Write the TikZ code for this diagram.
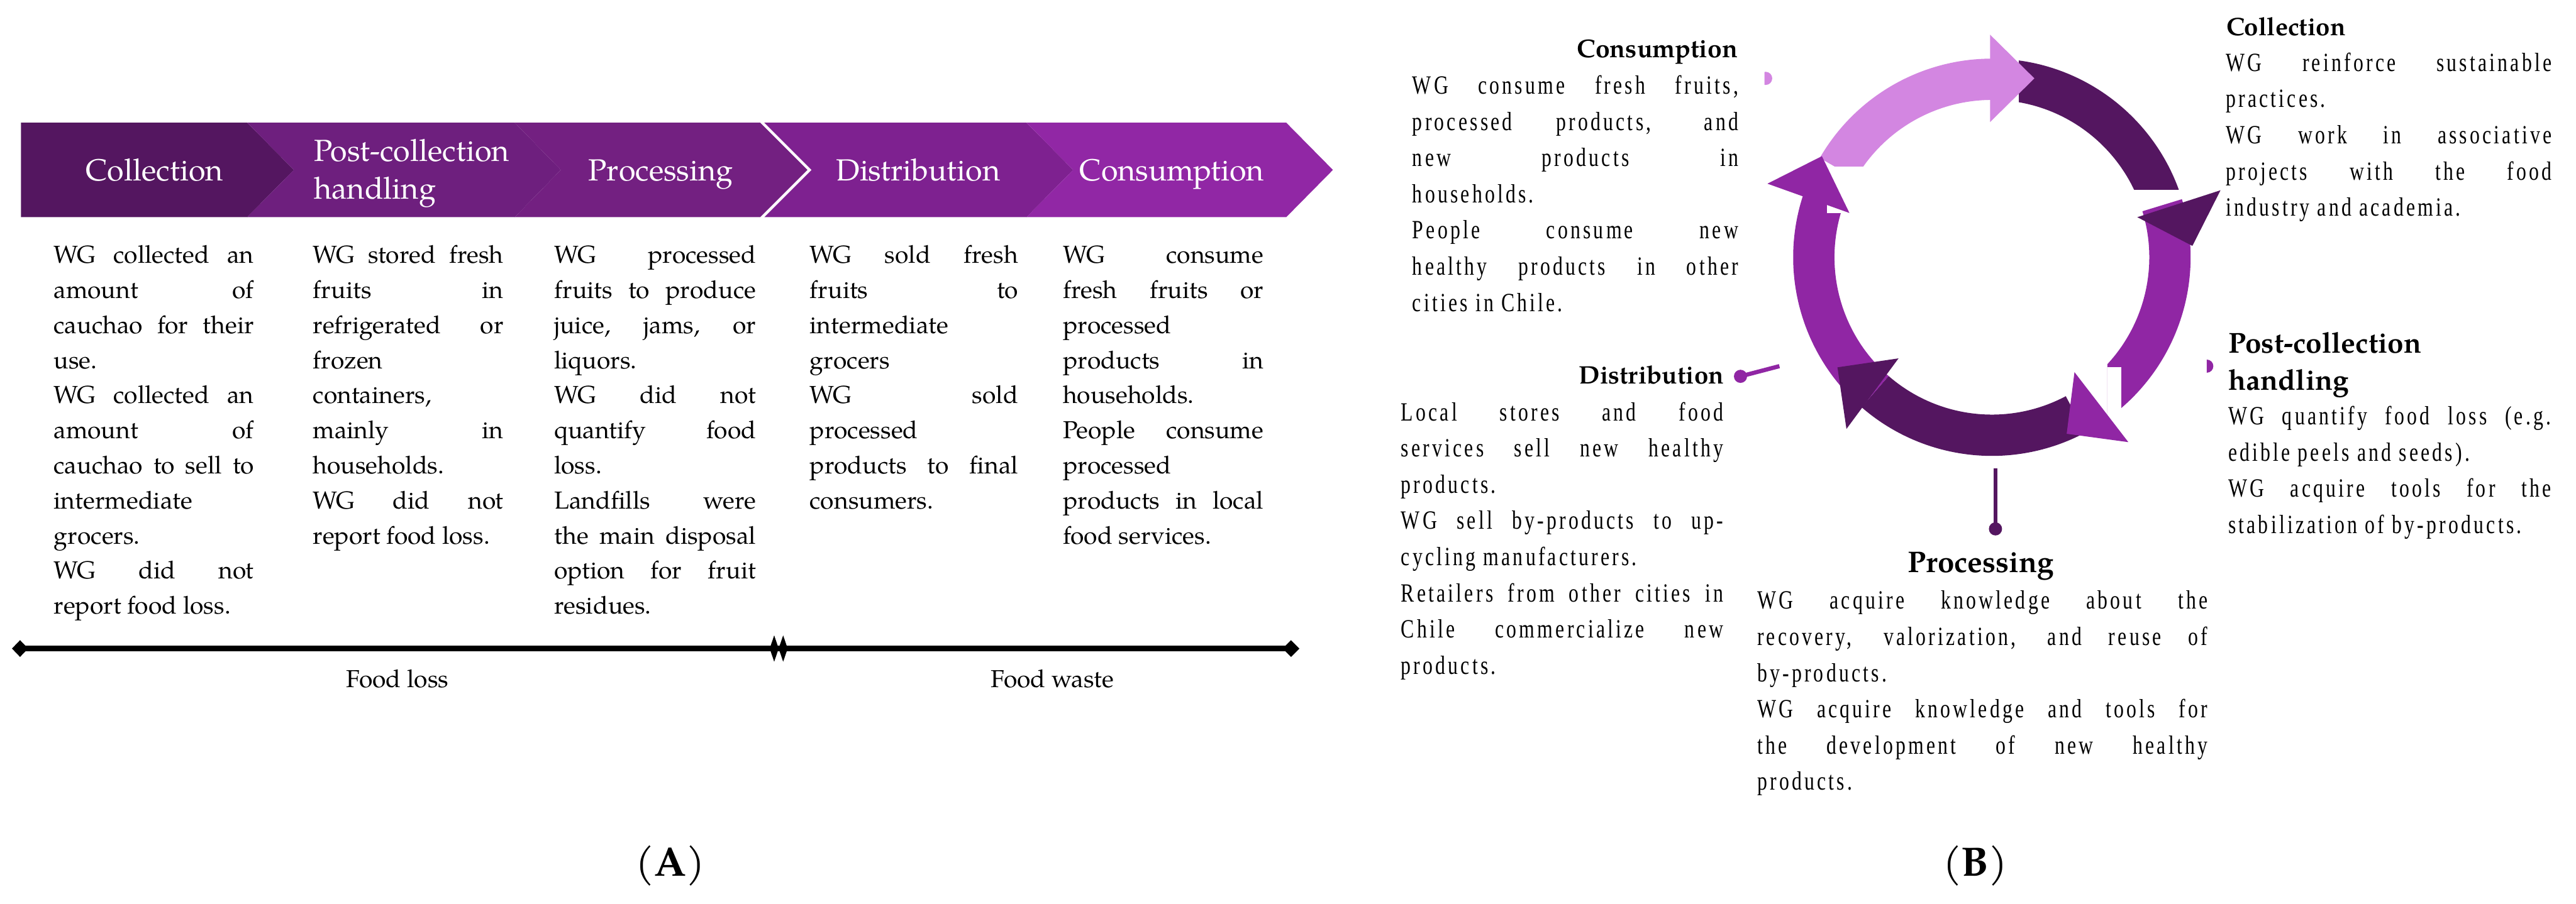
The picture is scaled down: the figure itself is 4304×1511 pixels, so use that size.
\documentclass[tikz,border=0pt]{standalone}
\usepackage{fontspec}
\setmainfont{TeX Gyre Pagella}
\newfontfamily\bfontB[FakeStretch=0.76,LetterSpace=10]{Liberation Serif}
\definecolor{cAa}{RGB}{84,22,96}
\definecolor{cAb}{RGB}{110,31,126}
\definecolor{cAc}{RGB}{115,32,129}
\definecolor{cAd}{RGB}{126,33,144}
\definecolor{cAe}{RGB}{145,39,165}
\definecolor{lightp}{RGB}{211,134,225}
\definecolor{darkp}{RGB}{84,22,96}
\definecolor{midp}{RGB}{144,38,164}
\newcommand\justl[1]{\makebox[\linewidth][s]{#1}\\}
\newcommand\lastl[1]{\mbox{#1}\\}
\newcommand\fA{\fontsize{11.67pt}{16.67pt}\selectfont}
\newcommand\fB{\bfontB\fontsize{12.5pt}{17.21pt}\selectfont}
\newcommand\ringsec[3]{\fill[#1] (#2:332) arc[start angle=#2, end angle=#3, radius=332] -- (#3:263) arc[start angle=#3, end angle=#2, radius=263] -- cycle;}
\tikzset{
  txt/.style={anchor=base west, inner sep=0pt, outer sep=0pt},
  chevlab/.style={inner sep=0pt, text=white, font=\fontsize{14.5pt}{17.9pt}\selectfont},
  ttl/.style={inner sep=0pt, font=\bfseries},
  panellab/.style={inner sep=0pt, font=\fontsize{19.5pt}{22pt}\selectfont},
}
\begin{document}
\begin{tikzpicture}[x=0.01cm, y=-0.01cm]
\useasboundingbox (0,0) rectangle (4304,1511);
\fill[white] (0,0) rectangle (4304,1511);

% ---------------- Panel A: chevrons
\fill[cAa] (35,205) -- (413,205) -- (491,284) -- (413,363) -- (35,363) -- cycle;
\fill[cAb] (413,205) -- (860,205) -- (937,284) -- (860,363) -- (413,363) -- (491,284) -- cycle;
\fill[cAc] (860,205) -- (1270,205) -- (1349,284) -- (1270,363) -- (860,363) -- (937,284) -- cycle;
\fill[cAd] (1277,205) -- (1715,205) -- (1793,284) -- (1715,363) -- (1277,363) -- (1356,284) -- cycle;
\fill[cAe] (1715,205) -- (2149,205) -- (2227,284) -- (2149,363) -- (1715,363) -- (1793,284) -- cycle;

\node[chevlab, anchor=base] (lcoll) at (258,302) {Collection};
\node[chevlab, anchor=base west] (lpost) at (524,270) {\parbox[t]{4cm}{\fontsize{14.5pt}{17.9pt}\selectfont Post-collection\\handling}};
\node[chevlab, anchor=base] (lproc) at (1104,302) {Processing};
\node[chevlab, anchor=base] (ldist) at (1534,302) {Distribution};
\node[chevlab, anchor=base] (lcons) at (1958,302) {Consumption};

% ---------------- Panel A: columns
\node[txt] (a1) at (90,440) {\parbox[t]{3.34cm}{\fA
\justl{WG collected an}
\justl{amount of}
\justl{cauchao for their}
\lastl{use.}
\justl{WG collected an}
\justl{amount of}
\justl{cauchao to sell to}
\lastl{intermediate}
\lastl{grocers.}
\justl{WG did not}
report food loss.}};

\node[txt] (a2) at (523,440) {\parbox[t]{3.18cm}{\fA
\justl{WG stored fresh}
\justl{fruits in}
\justl{refrigerated or}
\lastl{frozen}
\lastl{containers,}
\justl{mainly in}
\lastl{households.}
\justl{WG did not}
report food loss.}};

\node[txt] (a3) at (926,440) {\parbox[t]{3.37cm}{\fA
\justl{WG processed}
\justl{fruits to produce}
\justl{juice, jams, or}
\lastl{liquors.}
\justl{WG did not}
\justl{quantify food}
\lastl{loss.}
\justl{Landfills were}
\justl{the main disposal}
\justl{option for fruit}
residues.}};

\node[txt] (a4) at (1353,440) {\parbox[t]{3.48cm}{\fA
\justl{WG sold fresh}
\justl{fruits to}
\lastl{intermediate}
\lastl{grocers}
\justl{WG sold}
\lastl{processed}
\justl{products to final}
consumers.}};

\node[txt] (a5) at (1776,440) {\parbox[t]{3.35cm}{\fA
\justl{WG consume}
\justl{fresh fruits or}
\lastl{processed}
\justl{products in}
\lastl{households.}
\justl{People consume}
\lastl{processed}
\justl{products in local}
food services.}};

% ---------------- Panel A: timeline
\coordinate (tl0) at (33,1084);
\coordinate (tl1) at (2157,1084);
\draw[line width=0.09cm] (tl0) -- (tl1);
\fill (20,1084) -- (33.5,1070) -- (47,1084) -- (33.5,1098) -- cycle;
\fill (2143,1084) -- (2157,1070) -- (2171,1084) -- (2157,1098) -- cycle;
\fill (1286,1084) -- (1293.5,1062) -- (1301,1084) -- (1293.5,1106) -- cycle;
\fill (1301,1084) -- (1308.5,1062) -- (1316,1084) -- (1308.5,1106) -- cycle;
\node[inner sep=0pt, anchor=base, font=\fA] (floss) at (664,1149) {Food loss};
\node[inner sep=0pt, anchor=base, font=\fA] (fwaste) at (1758,1149) {Food waste};

\node[panellab] (labA) at (1120,1447) {(\textbf{A})};
\node[panellab] (labB) at (3300,1447) {(\textbf{B})};

% ---------------- Panel B: ring
\begin{scope}[shift={(3328,430)}, yscale=-1]
  \begin{scope}\clip (-400,152) rectangle (400,400); \ringsec{lightp}{150}{90} \end{scope}
  \begin{scope}\clip (45,113) rectangle (400,400); \ringsec{darkp}{90}{0} \end{scope}
  \begin{scope}\clip (193,-400) rectangle (400,400); \ringsec{midp}{17}{-60} \end{scope}
  \fill[white] (193,-184) rectangle (216,-268);
  \ringsec{darkp}{-62}{-131}
  \ringsec{midp}{-131}{-198}
  \fill[white] (-276,74) rectangle (-194,152);
  \fill[lightp] (-3,372) -- (-3,226) -- (71,299) -- cycle;
  \fill[darkp] (243,67) -- (382,112) -- (335,19) -- cycle;
  \fill[midp] (138,-192) -- (228,-309) -- (125,-295) -- cycle;
  \fill[darkp] (-258,-184) -- (-156,-169) -- (-243,-287) -- cycle;
  \fill[midp] (-375,123) -- (-284,169) -- (-238,74) -- cycle;
\end{scope}

% ---------------- Panel B: markers
\coordinate (mcons) at (2950,131);
\begin{scope}\clip (2948,100) rectangle (2990,160); \fill[lightp] (mcons) circle[radius=11]; \end{scope}
\coordinate (mpost) at (3687,612);
\begin{scope}\clip (3687,580) rectangle (3720,640); \fill[midp] (mpost) circle[radius=11]; \end{scope}
\coordinate (mdist) at (2908,629);
\coordinate (mdistend) at (2973,612);
\draw[midp, line width=0.07cm] (mdist) -- (mdistend);
\fill[midp] (mdist) circle[radius=11];
\coordinate (mproc) at (3334,884);
\coordinate (mproctop) at (3334,783);
\draw[darkp, line width=0.07cm] (mproctop) -- (mproc);
\fill[darkp] (mproc) circle[radius=11];

% ---------------- Panel B: titles
\node[ttl, anchor=base east, font=\fontsize{12.2pt}{14pt}\selectfont\bfseries] (tcons) at (2904,96) {Consumption};
\node[ttl, anchor=base west, font=\fontsize{12pt}{14pt}\selectfont\bfseries] (tcoll) at (3719,59) {Collection};
\node[ttl, anchor=base west] (tpost) at (3723,590) {\parbox[t]{4cm}{\fontsize{13.7pt}{17.6pt}\selectfont\bfseries Post-collection\\handling}};
\node[ttl, anchor=base, font=\fontsize{14.2pt}{16pt}\selectfont\bfseries] (tproc) at (3310,957) {Processing};
\node[ttl, anchor=base east, font=\fontsize{12pt}{14pt}\selectfont\bfseries] (tdist) at (2881,642) {Distribution};

% ---------------- Panel B: bodies
\node[txt] (bcons) at (2360,157) {\parbox[t]{5.44cm}{\fB
\justl{WG consume fresh fruits,}
\justl{processed products, and}
\justl{new products in}
\lastl{households.}
\justl{People consume new}
\justl{healthy products in other}
cities in Chile.}};

\node[txt] (bcoll) at (3719,119) {\parbox[t]{5.44cm}{\fB
\justl{WG reinforce sustainable}
\lastl{practices.}
\justl{WG work in associative}
\justl{projects with the food}
industry and academia.}};

\node[txt] (bpost) at (3723,710) {\parbox[t]{5.39cm}{\fB
\justl{WG quantify food loss (e.g.}
\lastl{edible peels and seeds).}
\justl{WG acquire tools for the}
stabilization of by-products.}};

\node[txt] (bproc) at (2936,1018) {\parbox[t]{7.52cm}{\fB
\justl{WG acquire knowledge about the}
\justl{recovery, valorization, and reuse of}
\lastl{by-products.}
\justl{WG acquire knowledge and tools for}
\justl{the development of new healthy}
products.}};

\node[txt] (bdist) at (2341,703) {\parbox[t]{5.38cm}{\fB
\justl{Local stores and food}
\justl{services sell new healthy}
\lastl{products.}
\justl{WG sell by-products to up-}
\lastl{cycling manufacturers.}
\justl{Retailers from other cities in}
\justl{Chile commercialize new}
products.}};
\end{tikzpicture}
\end{document}
